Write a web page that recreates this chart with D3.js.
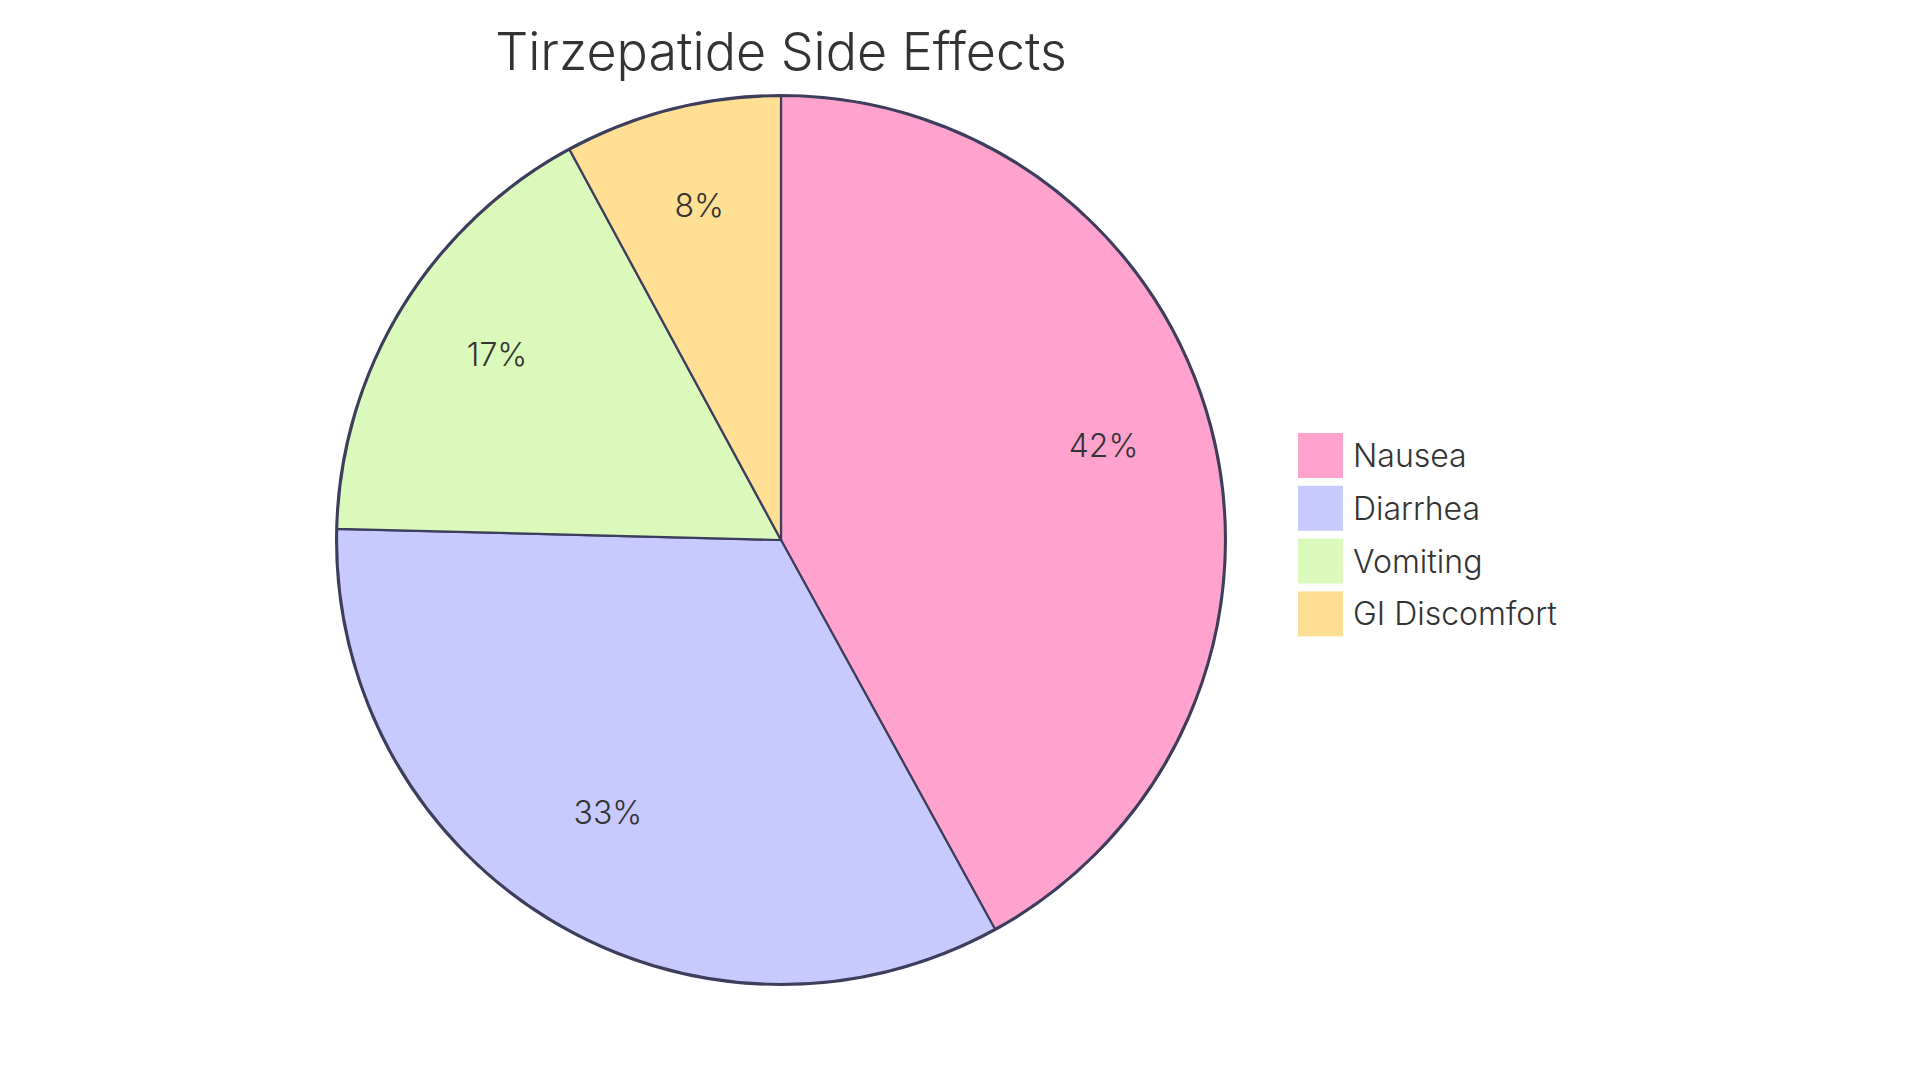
<!DOCTYPE html>
<html>
<head>
<meta charset="utf-8">
<script src="https://cdn.jsdelivr.net/npm/d3@7"></script>
<style>
  html, body { margin: 0; padding: 0; background: #ffffff; }
  svg text { font-family: Inter, "Noto Sans", sans-serif; fill: #333333; }
</style>
</head>
<body>
<svg id="pie-svg" width="1920" height="1083"></svg>
<script>
// chart data
const categories = ["Nausea", "Diarrhea", "Vomiting", "GI Discomfort"];
const values = [42.0, 33.4, 16.7, 7.9];
const sliceColors = ["#ffa3ce", "#c8caff", "#dbf9bb", "#ffdf94"];
const chartTitle = "Tirzepatide Side Effects";

const WIDTH = 1920;
const HEIGHT = 1083;
const CENTER = {x: 781, y: 540};
const RADIUS = 444;

const svg = d3.select("#pie-svg");

// title
svg.append("text")
  .attr("x", CENTER.x)
  .attr("y", 70)
  .style("text-anchor", "middle")
  .style("font-size", "52px")
  .style("font-weight", 350)
  .text(chartTitle);

const dataset = categories.map((c, i) => ({name: c, value: values[i]}));
const total = d3.sum(values);

const color = d3.scaleOrdinal()
  .domain(categories)
  .range(sliceColors);

const pie = d3.pie()
  .sort(null)
  .value(d => d.value);

const arc = d3.arc()
  .innerRadius(0)
  .outerRadius(RADIUS);

const labelArc = d3.arc()
  .innerRadius(RADIUS * 0.75)
  .outerRadius(RADIUS * 0.75);

const chart = svg.append("g")
  .attr("transform", `translate(${CENTER.x}, ${CENTER.y})`);

// outer ring
chart.append("circle")
  .attr("r", RADIUS)
  .attr("fill", "none")
  .attr("stroke", "#3d3d5c")
  .attr("stroke-width", 4);

// slices
chart.selectAll("path")
  .data(pie(dataset))
  .join("path")
  .attr("d", arc)
  .attr("fill", d => color(d.data.name))
  .attr("stroke", "#3d3d5c")
  .attr("stroke-width", 2.2);

// percentage labels
chart.selectAll("text.pct")
  .data(pie(dataset))
  .join("text")
  .attr("class", "pct")
  .attr("transform", d => `translate(${labelArc.centroid(d)})`)
  .style("text-anchor", "middle")
  .style("font-size", "32px")
  .style("font-weight", 350)
  .text(d => (d.data.value / total * 100).toFixed(0) + "%");

// legend
const legend = svg.append("g")
  .attr("transform", "translate(1298, 433)");

const legendItem = legend.selectAll("g")
  .data(categories)
  .join("g")
  .attr("transform", (d, i) => `translate(0, ${i * 52.8})`);

legendItem.append("rect")
  .attr("width", 45)
  .attr("height", 45)
  .attr("fill", d => color(d));

legendItem.append("text")
  .attr("x", 55)
  .attr("y", 34)
  .style("font-size", "32px")
  .style("font-weight", 350)
  .text(d => d);
</script>
</body>
</html>
